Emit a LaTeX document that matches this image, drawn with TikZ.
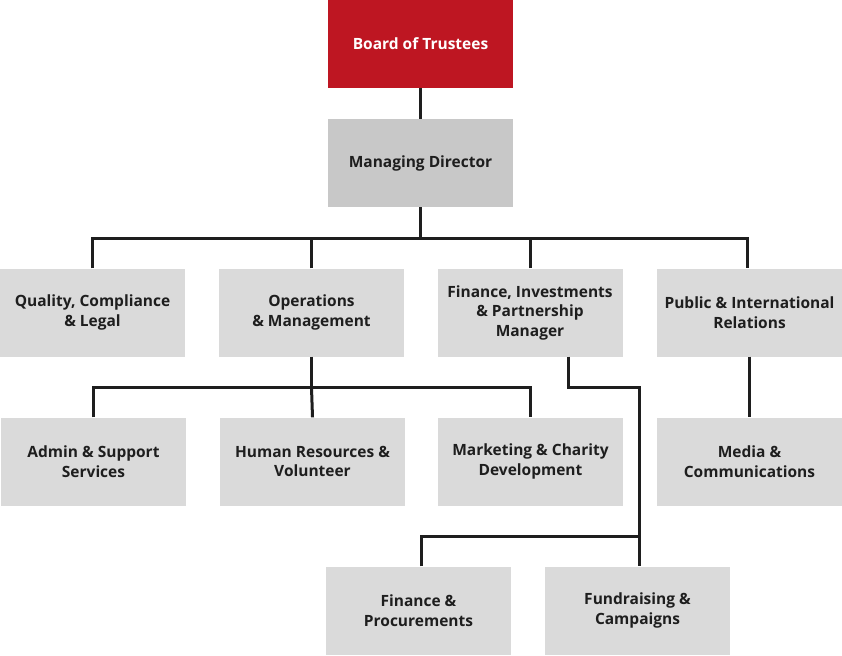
\documentclass[tikz,border=0pt]{standalone}
\usepackage{fontspec}
\setmainfont{Open Sans}
\definecolor{trusteered}{HTML}{BE1622}
\definecolor{directorgray}{HTML}{C8C8C8}
\definecolor{unitgray}{HTML}{DADADA}
\definecolor{inkdark}{HTML}{1E1E1E}
\begin{document}
\begin{tikzpicture}[x=1pt,y=-1pt,
	unit/.style={fill=unitgray,minimum width=185pt,minimum height=88pt,inner sep=0,
		align=center,text=inkdark,font=\bfseries\fontsize{15.5}{19.5}\selectfont},
	link/.style={draw=inkdark,line width=3pt}]
\useasboundingbox (0,0) rectangle (842,655);
\node[unit,fill=trusteered,text=white] (board) at (420.5,44) {Board of Trustees};
\node[unit,fill=directorgray] (director) at (420.5,163) {Managing Director};
\node[unit] (quality) at (92.5,312.5) {Quality, Compliance\\ \& Legal};
\node[unit] (ops) at (311.5,312.5) {Operations\\ \& Management};
\node[unit] (finance) at (530,312.5) {Finance, Investments\\ \& Partnership\\ Manager};
\node[unit] (public) at (749.5,312.5) {Public \& International\\ Relations};
\node[unit] (admin) at (93.5,461.5) {Admin \& Support\\ Services};
\node[unit] (hr) at (312.5,461.5) {Human Resources \&\\ Volunteer};
\node[unit] (marketing) at (530.5,461.5) {Marketing \& Charity\\ Development};
\node[unit] (media) at (749.5,461.5) {Media \&\\ Communications};
\node[unit] (procure) at (418.5,610.5) {Finance \&\\ Procurements};
\node[unit] (fundraise) at (637.5,610.5) {Fundraising \&\\ Campaigns};
\draw[link] (board) -- (director);
\draw[link] (director) -- (420.5,238) coordinate (topbus);
\draw[link] (quality.north) |- (topbus) -| ([xshift=-2pt]public.north);
\draw[link] (ops.north) -- (ops.north |- topbus);
\draw[link] (finance.north) -- (finance.north |- topbus);
\draw[link] (ops.south) -- ++(0,31) coordinate (opsbus);
\draw[link] (admin.north) |- (opsbus) -| (marketing.north);
\draw[link] (opsbus) -- (hr.north);
\draw[link] (public) -- (media);
\draw[link] ([xshift=38pt]finance.south) -- ++(0,31) -| ([xshift=1.5pt]fundraise.north);
\draw[link] ([xshift=2.5pt]procure.north) |- ([xshift=1.5pt]fundraise.north |- 0,536);
\end{tikzpicture}
\end{document}
